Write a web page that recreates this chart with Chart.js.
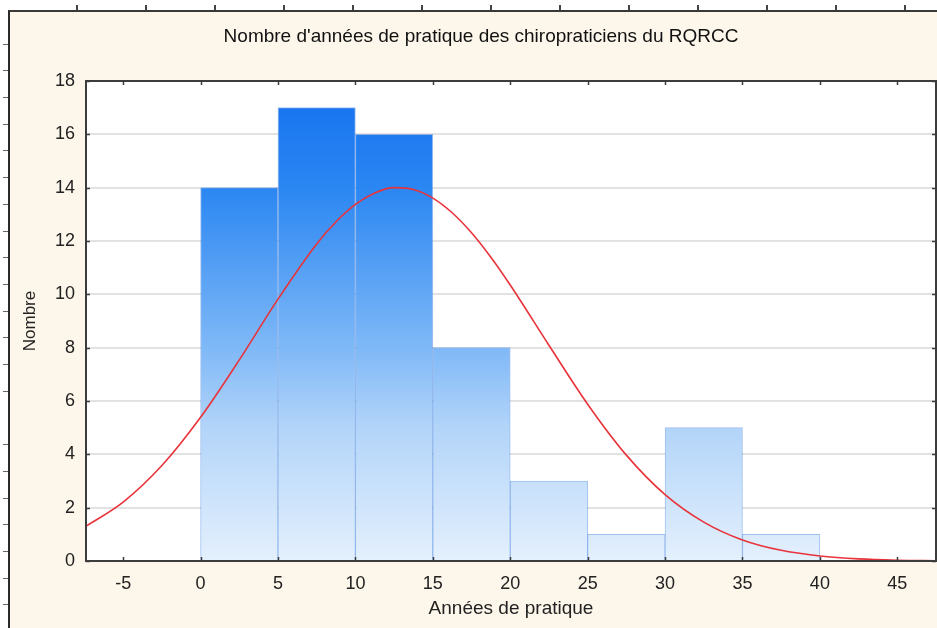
<!DOCTYPE html>
<html>
<head>
<meta charset="utf-8">
<script src="https://cdn.jsdelivr.net/npm/chart.js@4/dist/chart.umd.min.js"></script>
<style>
    html, body { margin: 0; padding: 0; background: #ffffff; }
    body { width: 937px; height: 628px; position: relative; overflow: hidden; }
    .frame {
        position: absolute; left: 8px; top: 10px; right: 0; bottom: 0;
        background: #fdf6ea;
        border-left: 2px solid #2a2a2a;
        border-top: 2px solid #3a3a3a;
    }
    .ticks-top {
        position: absolute; left: 9px; top: 5px; right: 0; height: 5px;
        background: repeating-linear-gradient(to right, transparent 0 67px, #444 67px 69px);
    }
    .ticks-left {
        position: absolute; left: 3px; top: 18px; width: 5px; bottom: 0;
        background: repeating-linear-gradient(to bottom, transparent 0 25.7px, #666 25.7px 26.7px);
    }
    canvas { position: absolute; left: 0; top: 0; }
</style>
</head>
<body>
<div class="frame"></div>
<div class="ticks-top"></div>
<div class="ticks-left"></div>
<canvas id="myChart" width="937" height="628"></canvas>
<script>
// histogram bins (années de pratique) and counts
const binStarts = [0, 5, 10, 15, 20, 25, 30, 35];
const binEnds = [5, 10, 15, 20, 25, 30, 35, 40];
const counts = [14, 17, 16, 8, 3, 1, 5, 1];

// fitted normal curve
const curveX = [-7.5, -5, -2.5, 0, 2.5, 5, 7.5, 8.75, 10, 11.25, 12.5, 13.75, 15, 16.25, 17.5, 18.75, 20, 22.5, 25, 27.5, 30, 32.5, 35, 37.5, 40, 42.5, 45, 47.5];
const curveY = [1.27, 2.21, 3.58, 5.39, 7.54, 9.82, 11.89, 12.72, 13.37, 13.80, 14.0, 13.93, 13.61, 13.06, 12.31, 11.39, 10.35, 8.09, 5.88, 3.97, 2.49, 1.46, 0.79, 0.40, 0.19, 0.08, 0.03, 0.01];

// axis ticks
const xTicks = [-5, 0, 5, 10, 15, 20, 25, 30, 35, 40, 45];
const yTicks = [0, 2, 4, 6, 8, 10, 12, 14, 16, 18];

const FONT = "'Liberation Sans', Arial, Helvetica, sans-serif";

const barData = binStarts.map((s, i) => ({ x: (s + binEnds[i]) / 2, y: counts[i] }));
const curveData = curveX.map((x, i) => ({ x: x, y: curveY[i] }));

function barGradient(context) {
    const chart = context.chart;
    const area = chart.chartArea;
    if (!area) return "#5fa3f5";
    const g = chart.ctx.createLinearGradient(0, area.top, 0, area.bottom);
    g.addColorStop(0, "#1470ee");
    g.addColorStop(0.22, "#2a86f2");
    g.addColorStop(0.56, "#80b9f7");
    g.addColorStop(0.72, "#b2d4f9");
    g.addColorStop(1, "#e4f0fd");
    return g;
}

// white plot area + frame with inward ticks
const plotFrame = {
    id: "plotFrame",
    beforeDraw(chart) {
        const a = chart.chartArea;
        const ctx = chart.ctx;
        ctx.save();
        ctx.fillStyle = "#ffffff";
        ctx.fillRect(a.left, a.top, a.right - a.left, a.bottom - a.top);
        ctx.restore();
    },
    afterDatasetsDraw(chart) {
        const a = chart.chartArea;
        const ctx = chart.ctx;
        const xs = chart.scales.x;
        const ys = chart.scales.y;
        ctx.save();
        ctx.strokeStyle = "#3c3c3c";
        ctx.lineWidth = 2;
        ctx.strokeRect(a.left, a.top, a.right - a.left, a.bottom - a.top);
        ctx.lineWidth = 1.5;
        ctx.beginPath();
        xTicks.forEach(v => {
            const px = Math.round(xs.getPixelForValue(v)) + 0.5;
            ctx.moveTo(px, a.bottom);
            ctx.lineTo(px, a.bottom - 4);
            ctx.moveTo(px, a.top);
            ctx.lineTo(px, a.top + 4);
        });
        yTicks.forEach(v => {
            const py = Math.round(ys.getPixelForValue(v)) + 0.5;
            ctx.moveTo(a.left, py);
            ctx.lineTo(a.left + 4, py);
            ctx.moveTo(a.right, py);
            ctx.lineTo(a.right - 4, py);
        });
        ctx.stroke();
        ctx.restore();
    }
};

const ctx = document.getElementById("myChart").getContext("2d");

new Chart(ctx, {
    type: "bar",
    data: {
        datasets: [
            {
                type: "line",
                label: "Normale",
                data: curveData,
                borderColor: "#e8333a",
                borderWidth: 1.6,
                pointRadius: 0,
                cubicInterpolationMode: "monotone",
                fill: false
            },
            {
                type: "bar",
                label: "Nombre",
                data: barData,
                backgroundColor: barGradient,
                borderColor: "rgba(80, 140, 225, 0.55)",
                borderWidth: 1,
                barPercentage: 1,
                categoryPercentage: 1,
                grouped: false
            }
        ]
    },
    options: {
        responsive: false,
        animation: false,
        layout: { padding: { left: 26, right: 1, top: 0, bottom: 0 } },
        plugins: {
            legend: { display: false },
            tooltip: { enabled: false },
            title: {
                display: true,
                text: "Nombre d'années de pratique des chiropraticiens du RQRCC",
                color: "#111",
                font: { family: FONT, size: 19, weight: "normal" },
                padding: { top: 25.6, bottom: 32.6 }
            }
        },
        scales: {
            x: {
                type: "linear",
                min: -7.4,
                max: 47.5,
                offset: false,
                afterBuildTicks: scale => { scale.ticks = xTicks.map(v => ({ value: v })); },
                afterFit: scale => { scale.height = 67; },
                grid: { display: false, offset: false, drawTicks: false },
                border: { display: false },
                ticks: {
                    color: "#222",
                    padding: 12,
                    maxRotation: 0,
                    font: { family: FONT, size: 18 }
                },
                title: {
                    display: true,
                    text: "Années de pratique",
                    color: "#222",
                    font: { family: FONT, size: 19 },
                    padding: { top: 0, bottom: 7.6 }
                }
            },
            y: {
                min: 0,
                max: 18,
                afterBuildTicks: scale => { scale.ticks = yTicks.map(v => ({ value: v })); },
                afterFit: scale => { scale.width = 60; },
                grid: {
                    drawTicks: false,
                    lineWidth: 2,
                    color: c => (c.tick && (c.tick.value === 0 || c.tick.value === 18)) ? "rgba(0,0,0,0)" : "#e2e2e2"
                },
                border: { display: false },
                ticks: {
                    color: "#222",
                    padding: 11,
                    font: { family: FONT, size: 18 }
                },
                title: {
                    display: true,
                    text: "Nombre",
                    color: "#222",
                    font: { family: FONT, size: 17 },
                    padding: { top: -6, bottom: 0 }
                }
            }
        }
    },
    plugins: [plotFrame]
});
</script>
</body>
</html>
